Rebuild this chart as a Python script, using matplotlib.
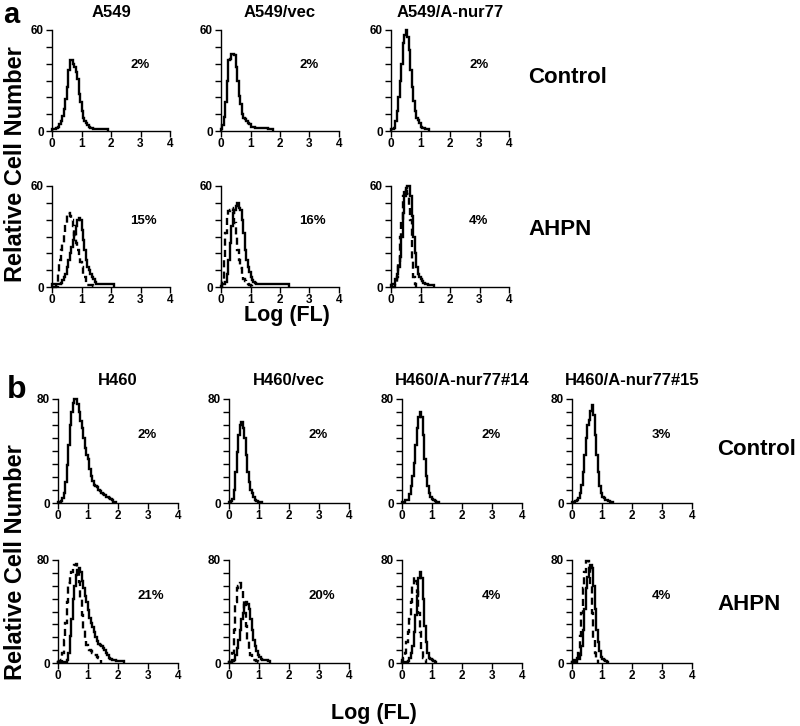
import matplotlib
matplotlib.use("Agg")
import numpy as np
import matplotlib.pyplot as plt

plt.rcParams["font.family"] = ["Liberation Sans", "DejaVu Sans"]
plt.rcParams["font.weight"] = "bold"

BIN = 0.05  # histogram channel width in log units

# ---- panel a: A549 lines (y scale 0-60) ----
a_titles = ["A549", "A549/vec", "A549/A-nur77"]
a_ctrl_pct = ["2%", "2%", "2%"]
a_ahpn_pct = ["15%", "16%", "4%"]

a549_ctrl = [1, 1, 1, 1.5, 2.5, 4, 6, 9, 13, 19, 26, 36, 42, 42, 40, 38, 35, 31, 22, 17,
             12, 8, 6, 5, 3.6, 2.5, 2, 1.5, 1.2, 1, 1, 1, 1, 1, 1, 1, 1, 1]
a549vec_ctrl = [1, 3.5, 8.5, 17.5, 30, 42, 43, 46, 46, 45, 38, 30, 21, 16, 10, 8, 7, 6, 5, 4,
                2.6, 2.4, 2.2, 2, 2, 1.8, 1.8, 1.6, 1.6, 1.5, 1.5, 1.5, 1.4, 1.2, 1.2]
a549nur_ctrl = [1, 1, 2, 6, 12, 20, 30, 40, 52, 57, 60, 56, 48, 36, 26, 18, 12, 8, 6.6, 4.6,
                2.6, 2, 1.6, 1.2, 1, 1]

a549_ahpn_solid = [1.5, 1.5, 2, 2, 1.6, 2, 2.6, 4, 5.7, 8, 12, 16, 20, 24, 28, 32, 36, 40, 41, 40,
                   34, 28, 22, 16, 12, 10, 8, 6, 4.7, 3, 2, 1.5, 1.5, 1.5, 1.5, 1.5, 1.5, 1.5,
                   1.5, 1.5, 1.5, 1.5]
a549_ahpn_dash = [0, 0, 0, 0.5, 8, 16, 22, 26, 32, 38, 43, 44, 42, 40, 36, 31, 26, 22, 18, 15,
                  12, 8, 5.7, 2, 1, 1, 1, 1, 0.5]
a549vec_ahpn_solid = [0.5, 2, 1.6, 3, 8, 16, 26, 36, 44, 46, 48, 50, 47, 46, 40, 32, 22, 16, 12, 9,
                      5.7, 4, 3.2, 2.5, 2, 1.5, 1.5, 1.5, 1.5, 1.5, 1.5, 1.5, 1.5, 1.5, 1.5, 1.5,
                      1.5, 1.5, 1.5, 1.5, 1.5, 1.5, 1.5, 1.5, 1.5, 1.5]
a549vec_ahpn_dash = [0, 3.6, 16, 32, 42, 45, 46, 47, 46, 38, 30, 22, 16, 11, 8, 5, 3.6, 2.5, 1.6,
                     1, 0.5]
a549nur_ahpn_solid = [1, 1.5, 2, 4.6, 7.7, 12, 18, 30, 44, 54, 59, 60, 60, 54, 42, 30, 20, 12, 8, 6,
                      4.6, 3.5, 2.6, 2, 1.6, 1.2, 1, 1, 1]
a549nur_ahpn_dash = [0, 0, 0, 2, 6, 14, 30, 40, 54, 58, 57, 55, 48, 40, 16, 6, 2]

# ---- panel b: H460 lines (y scale 0-80) ----
b_titles = ["H460", "H460/vec", "H460/A-nur77#14", "H460/A-nur77#15"]
b_ctrl_pct = ["2%", "2%", "2%", "3%"]
b_ahpn_pct = ["21%", "20%", "4%", "4%"]

h460_ctrl = [1, 1, 1.3, 4, 8, 16, 29, 45, 60, 70, 77, 80, 80, 76, 70, 63, 58, 50, 42, 37,
             34, 26, 21, 17, 14, 13, 12, 10, 9, 8, 6.6, 6, 5, 4.5, 4, 3, 2, 1, 0.5]
h460vec_ctrl = [0.5, 1.3, 3, 10, 24, 39, 52, 60, 62, 58, 50, 37, 24, 16, 10, 8, 5, 2.6, 1.3, 1,
                0.5, 0.5]
h460n14_ctrl = [1, 1, 2, 2, 2.6, 6.6, 13, 21, 31, 45, 58, 66, 70, 66, 52, 34, 21, 13, 8, 5,
                3, 2, 1.3, 1, 0.5]
h460n15_ctrl = [1, 1, 1.3, 2.6, 4, 8, 14, 24, 37, 50, 60, 64, 71, 75, 68, 52, 37, 24, 13, 8,
                5, 3.5, 2.6, 2, 1.3, 1, 0.5]

h460_ahpn_solid = [1, 0.5, 0.5, 0.5, 0.5, 1, 2.6, 8, 21, 34, 50, 60, 68, 72, 74, 71, 64, 58, 52, 47,
                   41, 35, 31, 28, 24, 20, 17, 15, 14, 13, 12, 10, 8, 6, 4, 3, 2, 2, 2, 1.5,
                   1.3, 1.3, 1.3, 1.3]
h460_ahpn_dash = [1, 1.3, 2.6, 8, 18, 31, 47, 62, 68, 71, 74, 76, 77, 72, 63, 50, 37, 26, 18, 14,
                  12, 10, 9, 8, 6.6, 6, 5, 4, 3]
h460vec_ahpn_solid = [0.5, 1, 1.3, 2.6, 6.6, 12, 18, 26, 34, 39, 45, 47, 46, 42, 34, 26, 18, 13, 9,
                      6.6, 5, 3, 2, 2, 2, 2, 1.5]
h460vec_ahpn_dash = [0.5, 1, 8, 26, 47, 58, 60, 62, 58, 50, 39, 29, 18, 10, 6.6, 4, 2.6, 2, 1.3, 1]
h460n14_ahpn_solid = [0.5, 0.5, 0.5, 1, 1.3, 4, 8, 13, 24, 37, 52, 66, 71, 66, 50, 29, 16, 8, 4, 3,
                      2, 1.3, 1]
h460n14_ahpn_dash = [2, 4, 8, 16, 24, 34, 47, 60, 67, 64, 55, 39, 24, 10, 4, 2]
h460n15_ahpn_solid = [1, 2, 2.6, 4, 3, 6.6, 13, 26, 42, 58, 67, 72, 76, 74, 60, 42, 26, 16, 9, 5,
                      3, 2, 1.3, 1]
h460n15_ahpn_dash = [0.5, 0.5, 1, 2.6, 8, 21, 39, 58, 71, 79, 79, 74, 60, 39, 18, 8, 3]

a_ctrl_hists = [a549_ctrl, a549vec_ctrl, a549nur_ctrl]
a_ahpn_hists = [(a549_ahpn_solid, a549_ahpn_dash),
                (a549vec_ahpn_solid, a549vec_ahpn_dash),
                (a549nur_ahpn_solid, a549nur_ahpn_dash)]
b_ctrl_hists = [h460_ctrl, h460vec_ctrl, h460n14_ctrl, h460n15_ctrl]
b_ahpn_hists = [(h460_ahpn_solid, h460_ahpn_dash),
                (h460vec_ahpn_solid, h460vec_ahpn_dash),
                (h460n14_ahpn_solid, h460n14_ahpn_dash),
                (h460n15_ahpn_solid, h460n15_ahpn_dash)]

W, H = 800, 726
fig = plt.figure(figsize=(W / 100, H / 100), dpi=100)


def px_axes(left, top, width, height):
    return fig.add_axes([left / W, 1 - (top + height) / H, width / W, height / H])


def px_text(x, y, s, **kw):
    return fig.text(x / W, 1 - y / H, s, **kw)


def stairs(ax, counts, dashed=False):
    counts = np.asarray(counts, dtype=float)
    edges = np.arange(len(counts) + 1) * BIN
    ls = (0, (3.0, 1.8)) if dashed else "-"
    ax.stairs(counts, edges, baseline=0, color="black", lw=1.7, linestyle=ls,
              clip_on=False, zorder=3)


def style(ax, ymax, pct):
    ax.set_xlim(0, 4)
    ax.set_ylim(0, ymax)
    for s in ("top", "right"):
        ax.spines[s].set_visible(False)
    for s in ("left", "bottom"):
        ax.spines[s].set_linewidth(1.0)
    ax.set_xticks([0, 1, 2, 3, 4])
    ax.set_yticks([0, ymax])
    ax.set_yticks(np.arange(10, ymax, 10), minor=True)
    ax.tick_params(which="both", direction="out", length=4, width=1.0, labelsize=8.5)
    ax.tick_params(axis="x", pad=1)
    ax.tick_params(axis="y", pad=2)
    ax.text(2.65, ymax * (39 / 60 if ymax == 60 else 52 / 80), pct, fontsize=9.5,
            ha="left", va="center")


# panel a
a_lefts = [52, 221, 391]
a_tops = [30, 186]
for i, title in enumerate(a_titles):
    ax = px_axes(a_lefts[i], a_tops[0], 118, 101)
    stairs(ax, a_ctrl_hists[i])
    style(ax, 60, a_ctrl_pct[i])
    px_text(a_lefts[i] + 59, 17, title, fontsize=12, ha="center", va="baseline")
    ax = px_axes(a_lefts[i], a_tops[1], 118, 101)
    solid, dash = a_ahpn_hists[i]
    stairs(ax, dash, dashed=True)
    stairs(ax, solid)
    style(ax, 60, a_ahpn_pct[i])

# panel b
b_lefts = [58, 229, 402, 572]
b_tops = [399, 560]
for i, title in enumerate(b_titles):
    ax = px_axes(b_lefts[i], b_tops[0], 120, 104)
    stairs(ax, b_ctrl_hists[i])
    style(ax, 80, b_ctrl_pct[i])
    px_text(b_lefts[i] + 60, 385, title, fontsize=12, ha="center", va="baseline")
    ax = px_axes(b_lefts[i], b_tops[1], 120, 103)
    solid, dash = b_ahpn_hists[i]
    stairs(ax, dash, dashed=True)
    stairs(ax, solid)
    style(ax, 80, b_ahpn_pct[i])

# panel letters, axis and row labels
px_text(3, 1, "a", fontsize=21, ha="left", va="top")
px_text(7, 398, "b", fontsize=23, ha="left", va="baseline")
px_text(16, 164, "Relative Cell Number", fontsize=17, rotation=90,
        ha="center", va="center")
px_text(16, 562, "Relative Cell Number", fontsize=17, rotation=90,
        ha="center", va="center")
px_text(287, 321, "Log (FL)", fontsize=15.5, ha="center", va="baseline")
px_text(374, 719, "Log (FL)", fontsize=15.5, ha="center", va="baseline")
px_text(528, 83, "Control", fontsize=16, ha="left", va="baseline")
px_text(528, 235, "AHPN", fontsize=16, ha="left", va="baseline")
px_text(717, 455, "Control", fontsize=16, ha="left", va="baseline")
px_text(717, 610, "AHPN", fontsize=16, ha="left", va="baseline")

fig.savefig("out.png", dpi=100)
